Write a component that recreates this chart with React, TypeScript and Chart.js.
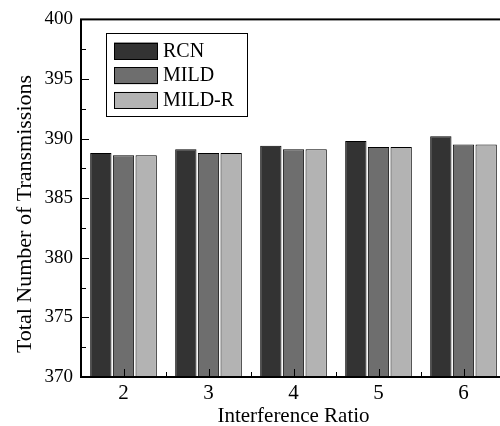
import React, { useEffect, useRef } from "react";
import { Chart, registerables } from "chart.js";

Chart.register(...registerables);

const categories = ["2", "3", "4", "5", "6"];
const rcnValues = [388.8, 389.1, 389.4, 389.8, 390.2];
const mildValues = [388.6, 388.8, 389.1, 389.3, 389.5];
const mildRValues = [388.6, 388.8, 389.1, 389.3, 389.5];
const seriesNames = ["RCN", "MILD", "MILD-R"];
const seriesColors = ["#333333", "#6e6e6e", "#b3b3b3"];
const yMin = 370;
const yMax = 400;
const yStep = 5;
const xTitle = "Interference Ratio";
const yTitle = "Total Number of Transmissions";

const FONT = "Liberation Serif, Times New Roman, serif";
Chart.defaults.font.family = FONT;

const decorPlugin = {
  id: "decor",
  afterDatasetsDraw(chart: any) {
    const { ctx, chartArea } = chart;
    const { left, right, top, bottom } = chartArea;
    const ys = chart.scales.y;
    const xs = chart.scales.x;
    ctx.save();
    ctx.strokeStyle = "#000";
    ctx.lineWidth = 1;
    for (let v = yMin; v <= yMax; v += yStep / 2) {
      const y = Math.round(ys.getPixelForValue(v)) + 0.5;
      const major = Math.abs((v - yMin) % yStep) < 1e-6;
      const len = major ? 8 : 5;
      ctx.beginPath();
      ctx.moveTo(left, y);
      ctx.lineTo(left + len, y);
      ctx.stroke();
    }
    const n = categories.length;
    for (let i = 0; i < n; i++) {
      const cx = Math.round(xs.getPixelForValue(i)) + 0.5;
      ctx.beginPath();
      ctx.moveTo(cx, bottom);
      ctx.lineTo(cx, bottom - 8);
      ctx.stroke();
      if (i < n - 1) {
        const nx = xs.getPixelForValue(i + 1);
        const bx = Math.round((xs.getPixelForValue(i) + nx) / 2) + 0.5;
        ctx.beginPath();
        ctx.moveTo(bx, bottom);
        ctx.lineTo(bx, bottom - 5);
        ctx.stroke();
      }
    }
    ctx.lineWidth = 2;
    ctx.strokeRect(left, top, right - left, bottom - top);

    const lx = 106, ly = 33, lw = 141, lh = 83;
    ctx.lineWidth = 1;
    ctx.fillStyle = "#fff";
    ctx.fillRect(lx, ly, lw, lh);
    ctx.strokeRect(lx + 0.5, ly + 0.5, lw, lh);
    ctx.font = `20px ${FONT}`;
    ctx.textBaseline = "middle";
    ctx.textAlign = "left";
    chart.data.datasets.forEach((ds: any, i: number) => {
      const sy = 42.5 + i * 24.7;
      ctx.fillStyle = ds.backgroundColor;
      ctx.fillRect(114, sy, 44, 17);
      ctx.strokeStyle = "#000";
      ctx.strokeRect(114.5, Math.round(sy) + 0.5, 43, 16);
      ctx.fillStyle = "#000";
      ctx.fillText(ds.label, 163, sy + 9);
    });

    ctx.fillStyle = "#000";
    ctx.font = `21px ${FONT}`;
    ctx.textAlign = "center";
    ctx.textBaseline = "alphabetic";
    ctx.fillText(xTitle, (left + right) / 2, 422);
    ctx.save();
    ctx.translate(31, 214);
    ctx.rotate(-Math.PI / 2);
    ctx.font = `22px ${FONT}`;
    ctx.fillText(yTitle, 0, 0);
    ctx.restore();
    ctx.restore();
  },
};

export default function App() {
  const ref = useRef<HTMLCanvasElement | null>(null);
  useEffect(() => {
    if (!ref.current) return;
    const data = [rcnValues, mildValues, mildRValues];
    const chart = new Chart(ref.current, {
      type: "bar",
      data: {
        labels: categories,
        datasets: seriesNames.map((name, i) => ({
          label: name,
          data: data[i],
          backgroundColor: seriesColors[i],
          borderColor: "#000",
          borderWidth: 1,
          categoryPercentage: 0.8,
          barPercentage: 0.94,
        })),
      },
      options: {
        responsive: false,
        animation: false,
        layout: { padding: { top: 15, right: 4, left: 0, bottom: 0 } },
        plugins: { legend: { display: false }, tooltip: { enabled: false } },
        scales: {
          x: {
            grid: { display: false, drawTicks: false },
            border: { display: false },
            ticks: { padding: 4, color: "#000", font: { family: FONT, size: 21 } },
            afterFit: (s: any) => { s.height = 49; },
          },
          y: {
            min: yMin,
            max: yMax,
            grid: { display: false, drawTicks: false },
            border: { display: false },
            ticks: { stepSize: yStep, padding: 8, color: "#000", font: { family: FONT, size: 19 } },
            afterFit: (s: any) => { s.width = 81; },
          },
        },
      },
      plugins: [decorPlugin],
    });
    return () => chart.destroy();
  }, []);
  return (
    <div style={{ position: "fixed", left: 0, top: 0, width: 500, height: 426, overflow: "hidden", background: "#fff" }}>
      <canvas ref={ref} width={510} height={426} style={{ width: 510, height: 426, display: "block" }} />
    </div>
  );
}
